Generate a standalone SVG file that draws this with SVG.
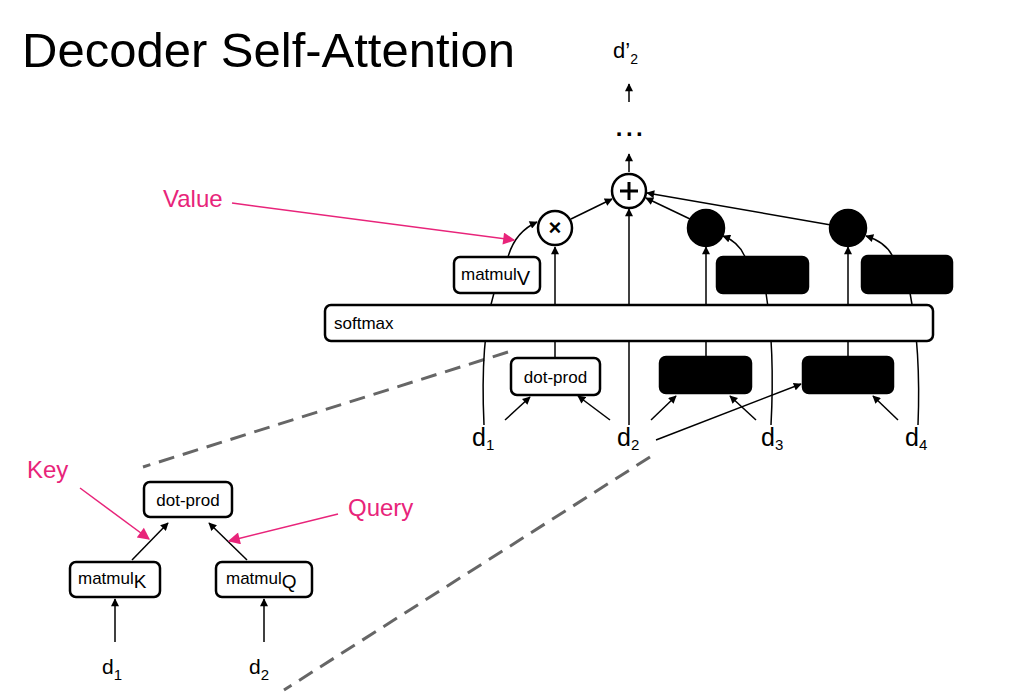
<svg xmlns="http://www.w3.org/2000/svg" width="1024" height="695" viewBox="0 0 1024 695">
<style>
text{font-family:"Liberation Sans",Arial,sans-serif;fill:#000}
.title{font-size:49px}
.lbl{font-size:17px}
.d{font-size:25px}
.d2{font-size:21px}
.pink{fill:#E8247A;font-size:24px}
.box{fill:#fff;stroke:#000;stroke-width:2.5}
.blk{fill:#000;stroke:#000;stroke-width:2.5}
.c{fill:none;stroke:#000;stroke-width:1.5}
.pa{fill:none;stroke:#E8247A;stroke-width:1.5}
.dash{fill:none;stroke:#666;stroke-width:3;stroke-dasharray:16 9}
</style>
<defs>
<marker id="ah" viewBox="0 0 10 10" refX="9" refY="5" markerWidth="9" markerHeight="8" markerUnits="userSpaceOnUse" orient="auto"><path d="M0,0 L10,5 L0,10 z" fill="#000"/></marker>
<marker id="ahp" viewBox="0 0 10 10" refX="9" refY="5" markerWidth="14" markerHeight="12" markerUnits="userSpaceOnUse" orient="auto"><path d="M0,0 L10,5 L0,10 z" fill="#E8247A"/></marker>
</defs>
<text class="title" x="22" y="67">Decoder Self-Attention</text>

<g id="dashes">
<path class="dash" d="M 508 352 L 143 467"/>
<path class="dash" d="M 650 457 L 284 690"/>
</g>

<g id="connectors">
<path class="c" d="M 484 425 Q 480 340 494 293"/>
<path class="c" d="M 508 257 Q 515 232 537 222" marker-end="url(#ah)"/>
<path class="c" d="M 555 305 L 555 247" marker-end="url(#ah)"/>
<path class="c" d="M 571 219 L 612 199" marker-end="url(#ah)"/>
<path class="c" d="M 629 425 L 629 209" marker-end="url(#ah)"/>
<path class="c" d="M 629 172 L 629 154" marker-end="url(#ah)"/>
<path class="c" d="M 629 102 L 629 84" marker-end="url(#ah)"/>
<path class="c" d="M 690 219 L 646 198" marker-end="url(#ah)"/>
<path class="c" d="M 831 225 L 647 193" marker-end="url(#ah)"/>
<path class="c" d="M 706 305 L 706 247" marker-end="url(#ah)"/>
<path class="c" d="M 745 257 Q 739 242 723 236" marker-end="url(#ah)"/>
<path class="c" d="M 848 305 L 848 247" marker-end="url(#ah)"/>
<path class="c" d="M 893 257 Q 886 242 866 236" marker-end="url(#ah)"/>
<path class="c" d="M 771 425 Q 775 350 766 293"/>
<path class="c" d="M 918 425 Q 921 350 910 293"/>
<path class="c" d="M 555 358 L 555 341"/>
<path class="c" d="M 706 357 L 706 341"/>
<path class="c" d="M 848 357 L 848 341"/>
<path class="c" d="M 505 420 L 530 397" marker-end="url(#ah)"/>
<path class="c" d="M 610 420 L 578 396" marker-end="url(#ah)"/>
<path class="c" d="M 651 420 L 676 396" marker-end="url(#ah)"/>
<path class="c" d="M 756 420 L 730 396" marker-end="url(#ah)"/>
<path class="c" d="M 656 440 L 801 384" marker-end="url(#ah)"/>
<path class="c" d="M 898 420 L 873 396" marker-end="url(#ah)"/>
<path class="c" d="M 132 560 L 168 523" marker-end="url(#ah)"/>
<path class="c" d="M 247 560 L 209 523" marker-end="url(#ah)"/>
<path class="c" d="M 115 642 L 115 599" marker-end="url(#ah)"/>
<path class="c" d="M 264 642 L 264 599" marker-end="url(#ah)"/>
<path class="pa" d="M 232 203 L 514 240" marker-end="url(#ahp)"/>
<path class="pa" d="M 80 488 L 149 539" marker-end="url(#ahp)"/>
<path class="pa" d="M 338 514 L 229 541" marker-end="url(#ahp)"/>
</g>

<g id="softmax"><rect class="box" x="325" y="305" width="608" height="36" rx="6"/><text class="lbl" x="334" y="329">softmax</text></g>
<g id="matmulV"><rect class="box" x="454" y="257" width="86" height="36" rx="6"/><text class="lbl" x="461" y="280">matmul<tspan font-size="20" dy="5">V</tspan></text></g>
<g id="times"><circle class="box" cx="555" cy="228" r="17"/><text x="555" y="235" text-anchor="middle" font-size="22" font-weight="bold">×</text></g>
<g id="plus"><circle class="box" cx="629" cy="191" r="17"/><path d="M 620 191 L 638 191 M 629 182 L 629 200" stroke="#000" stroke-width="3"/></g>
<g id="bc1"><circle class="blk" cx="706" cy="228" r="18"/></g>
<g id="bc2"><circle class="blk" cx="848" cy="228" r="18"/></g>
<g id="bt1"><rect class="blk" x="717" y="257" width="91" height="36" rx="6"/></g>
<g id="bt2"><rect class="blk" x="862" y="256" width="90" height="37" rx="6"/></g>
<g id="dotprod"><rect class="box" x="511" y="358" width="89" height="37" rx="6"/><text class="lbl" x="555.5" y="383" text-anchor="middle">dot-prod</text></g>
<g id="bb1"><rect class="blk" x="660" y="357" width="91" height="36" rx="6"/></g>
<g id="bb2"><rect class="blk" x="803" y="357" width="90" height="36" rx="6"/></g>

<g id="dlabels">
<text class="d" x="472" y="446">d<tspan font-size="15" dy="4">1</tspan></text>
<text class="d" x="617" y="446">d<tspan font-size="15" dy="4">2</tspan></text>
<text class="d" x="761" y="446">d<tspan font-size="15" dy="4">3</tspan></text>
<text class="d" x="905" y="446">d<tspan font-size="15" dy="4">4</tspan></text>
<text x="613" y="58" font-size="22">d’<tspan font-size="14" dy="6">2</tspan></text>
<text x="631" y="136" text-anchor="middle" font-size="24" font-weight="bold" letter-spacing="3.5">...</text>
</g>

<g id="inset">
<g id="dotprod2"><rect class="box" x="144" y="482" width="88" height="35" rx="6"/><text class="lbl" x="188" y="506" text-anchor="middle">dot-prod</text></g>
<g id="matmulK"><rect class="box" x="70" y="562" width="90" height="35" rx="6"/><text class="lbl" x="78" y="584">matmul<tspan font-size="19" dy="4">K</tspan></text></g>
<g id="matmulQ"><rect class="box" x="216" y="562" width="96" height="35" rx="6"/><text class="lbl" x="226" y="584">matmul<tspan font-size="19" dy="4">Q</tspan></text></g>
<text class="d2" x="102" y="674">d<tspan font-size="15" dy="6">1</tspan></text>
<text class="d2" x="249" y="674">d<tspan font-size="15" dy="6">2</tspan></text>
</g>

<g id="pinklabels">
<text class="pink" x="163" y="207">Value</text>
<text class="pink" x="27" y="478">Key</text>
<text class="pink" x="348" y="516">Query</text>
</g>
</svg>
